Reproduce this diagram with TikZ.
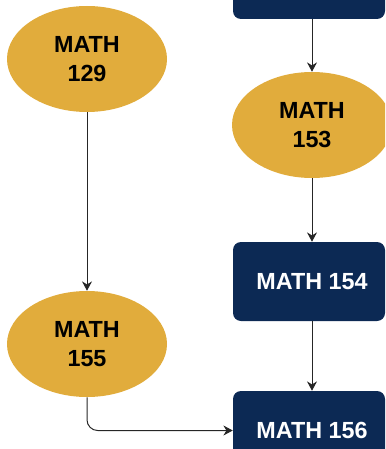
\documentclass[tikz,border=0pt]{standalone}
\usepackage{fontspec}
\setmainfont{Liberation Sans}
\usetikzlibrary{shapes.geometric,arrows.meta}
\definecolor{gold}{RGB}{225,172,60}
\definecolor{navy}{RGB}{12,41,84}
\tikzset{
  course/.style={ellipse, fill=gold, draw=none, minimum width=120pt, minimum height=79.5pt, inner sep=0pt, align=center, font=\fontsize{17.5}{21.75}\selectfont\bfseries, text=black},
  core/.style={rectangle, rounded corners=6pt, fill=navy, draw=none, minimum width=114pt, minimum height=59.25pt, inner sep=0pt, align=center, font=\fontsize{17.5}{21.75}\selectfont\bfseries, text=white},
  link/.style={draw=black!85, line width=0.75pt, -{Stealth[length=7pt,width=7.5pt]}},
}
\begin{document}
\begin{tikzpicture}[x=0.75pt,y=-0.75pt]
\useasboundingbox (0,0) rectangle (385,449);
\clip (0,0) rectangle (385,449);
\node[core] (top) at (309,-20.5) {};
\node[course] (m129) at (87,59) {MATH\\129};
\node[course] (m153) at (312,125) {MATH\\153};
\node[core] (m154) at (309,281.5) {\hspace*{4.5pt}MATH 154};
\node[course] (m155) at (87,344) {MATH\\155};
\node[core] (m156) at (309,430.5) {\hspace*{4.5pt}MATH 156};
\draw[link] (top.south -| m153) -- (m153);
\draw[link] (m153) -- (m154.north -| m153);
\draw[link] (m154.south -| m153) -- (m156.north -| m153);
\draw[link] (m129) -- (m155);
\draw[link, rounded corners=8pt] (m155.south) |- (m156.west);
\end{tikzpicture}
\end{document}
